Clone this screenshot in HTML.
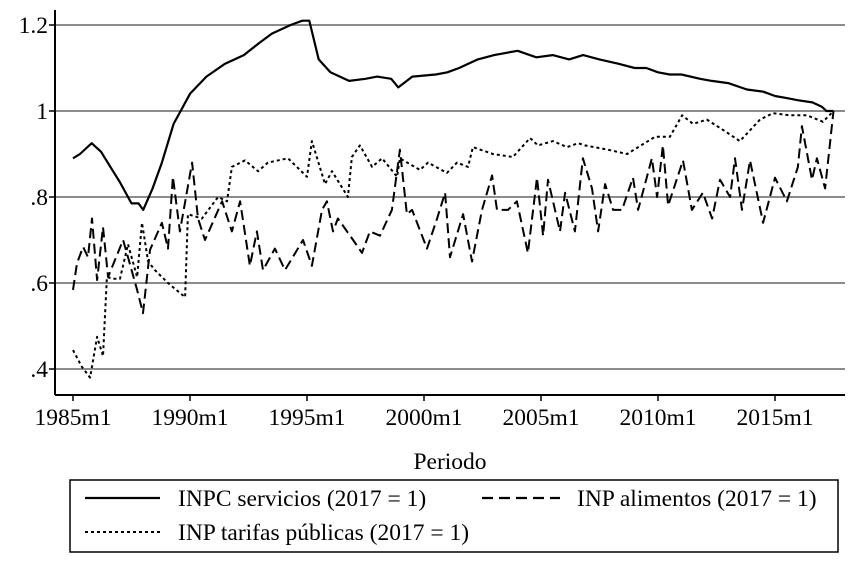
<!DOCTYPE html>
<html><head><meta charset="utf-8"><style>
body{margin:0;background:#fff;}
svg text{font-family:"Liberation Serif",serif;fill:#000;}
</style></head><body>
<svg id="chart" width="850" height="556" viewBox="0 0 850 556" xmlns="http://www.w3.org/2000/svg">
<g id="grid"></g><g id="axes"></g><g id="series"></g>
<g>
<rect x="70" y="480" width="768" height="72" fill="none" stroke="#000" stroke-width="1.5"/>
<line x1="85" y1="498" x2="160" y2="498" stroke="#000" stroke-width="2.2"/>
<text x="178" y="506" font-size="23.5">INPC servicios (2017 = 1)</text>
<line x1="482" y1="498" x2="560" y2="498" stroke="#000" stroke-width="2.2" stroke-dasharray="11,6"/>
<text x="577" y="506" font-size="23.5">INP alimentos (2017 = 1)</text>
<line x1="85" y1="532" x2="160" y2="532" stroke="#000" stroke-width="2" stroke-dasharray="3,3"/>
<text x="178" y="540" font-size="23.5">INP tarifas públicas (2017 = 1)</text>
</g>
<text x="450" y="469" font-size="23.5" text-anchor="middle">Periodo</text>
</svg>
<script>
const yTicks=[0.4,0.6,0.8,1.0,1.2];
const yTickLabels=[".4",".6",".8","1","1.2"];
const xTicks=[1985,1990,1995,2000,2005,2010,2015];
const xTickLabels=["1985m1","1990m1","1995m1","2000m1","2005m1","2010m1","2015m1"];
const servDates=[1985,1985.3,1985.6,1985.8,1986.2,1986.6,1987,1987.5,1987.8,1988,1988.4,1988.8,1989.3,1989.7,1990,1990.7,1991.5,1992.3,1993,1993.5,1994.3,1994.8,1995.1,1995.5,1996,1996.8,1997.5,1998,1998.6,1998.9,1999.5,2000.5,2001,2001.5,2002.3,2003,2003.5,2004,2004.8,2005.5,2006.2,2006.8,2007.5,2008.3,2009,2009.5,2010,2010.5,2011,2011.8,2012.3,2013,2013.8,2014.5,2015,2015.5,2016,2016.6,2017,2017.2,2017.5];
const servValues=[0.89,0.9,0.915,0.925,0.905,0.87,0.835,0.785,0.785,0.77,0.82,0.88,0.97,1.01,1.04,1.08,1.11,1.13,1.16,1.18,1.2,1.21,1.21,1.12,1.09,1.07,1.075,1.08,1.075,1.055,1.08,1.085,1.09,1.1,1.12,1.13,1.135,1.14,1.125,1.13,1.12,1.13,1.12,1.11,1.1,1.1,1.09,1.085,1.085,1.075,1.07,1.065,1.05,1.045,1.035,1.03,1.025,1.02,1.01,1.0,1.0];
const alimDates=[1985,1985.17,1985.43,1985.64,1985.81,1986.03,1986.28,1986.5,1987.14,1987.35,1987.74,1987.99,1988.29,1988.8,1989.06,1989.27,1989.57,1990.09,1990.34,1990.64,1991.37,1991.79,1992.14,1992.56,1992.86,1993.12,1993.63,1994.06,1994.83,1995.21,1995.64,1995.85,1996.11,1996.32,1996.97,1997.35,1997.69,1998.12,1998.63,1998.97,1999.27,1999.49,2000.13,2000.56,2000.9,2001.11,2001.67,2002.05,2002.48,2002.91,2003.12,2003.59,2003.97,2004.44,2004.83,2005.09,2005.3,2005.81,2006.03,2006.45,2006.79,2007.18,2007.44,2007.74,2008.08,2008.46,2008.93,2009.15,2009.74,2009.96,2010.21,2010.43,2011.07,2011.45,2011.92,2012.31,2012.65,2013.08,2013.29,2013.59,2013.93,2014.49,2015.0,2015.51,2015.98,2016.15,2016.58,2016.79,2017.14,2017.5];
const alimValues=[0.584,0.646,0.684,0.66,0.75,0.607,0.73,0.614,0.70,0.66,0.584,0.53,0.677,0.74,0.68,0.847,0.72,0.88,0.75,0.70,0.79,0.72,0.79,0.64,0.72,0.63,0.68,0.63,0.70,0.64,0.77,0.79,0.72,0.75,0.70,0.67,0.72,0.71,0.77,0.91,0.76,0.77,0.68,0.75,0.81,0.66,0.76,0.65,0.77,0.85,0.77,0.77,0.79,0.67,0.845,0.71,0.84,0.72,0.81,0.72,0.89,0.82,0.72,0.83,0.77,0.77,0.845,0.77,0.89,0.80,0.92,0.78,0.885,0.77,0.81,0.75,0.84,0.80,0.89,0.77,0.885,0.74,0.845,0.79,0.87,0.965,0.84,0.89,0.82,1.0];
const tarDates=[1985,1985.38,1985.73,1986.03,1986.28,1986.45,1986.71,1987.01,1987.35,1987.74,1987.95,1988.21,1988.5,1989.06,1989.79,1989.91,1990.51,1991.2,1991.58,1991.79,1992.35,1992.91,1993.33,1994.19,1995.0,1995.21,1995.77,1996.07,1996.75,1996.92,1997.26,1997.78,1998.21,1998.85,1998.97,1999.83,2000.17,2000.98,2001.41,2001.88,2002.09,2002.95,2003.8,2004.53,2004.87,2005.51,2006.11,2006.58,2006.88,2007.86,2008.68,2009.87,2010.51,2011.03,2011.5,2012.09,2012.95,2013.5,2014.36,2014.91,2015.64,2016.37,2017.05,2017.5];
const tarValues=[0.444,0.405,0.38,0.475,0.43,0.614,0.61,0.61,0.69,0.614,0.74,0.65,0.63,0.60,0.567,0.76,0.75,0.80,0.79,0.87,0.885,0.86,0.88,0.89,0.847,0.93,0.83,0.86,0.80,0.893,0.92,0.87,0.89,0.847,0.89,0.863,0.88,0.856,0.88,0.87,0.916,0.90,0.893,0.937,0.92,0.93,0.916,0.925,0.92,0.91,0.90,0.94,0.94,0.99,0.97,0.98,0.95,0.93,0.98,0.995,0.99,0.99,0.975,1.0];
const NS="http://www.w3.org/2000/svg";
const L=55,R=845,B=395;
const xs=y=>73+(y-1985)*23.4;
const ys=v=>111-(v-1)*430;
function mk(tag,attrs,parent){const e=document.createElementNS(NS,tag);for(const k in attrs)e.setAttribute(k,attrs[k]);parent.appendChild(e);return e;}
const grid=document.getElementById('grid'),axes=document.getElementById('axes'),ser=document.getElementById('series');
yTicks.forEach((t,i)=>{
 const g=mk('line',{x1:L,x2:R,y1:ys(t),y2:ys(t),stroke:'#8c8c8c','stroke-width':2},grid);
 
 
 const tk=mk('line',{x1:L-6,x2:L,y1:ys(t),y2:ys(t),stroke:'#000','stroke-width':1.5},axes);
 
 
 const tx=mk('text',{x:L-7,y:ys(t)+8,'font-size':23.5,'text-anchor':'end'},axes);
 tx.textContent=yTickLabels[i];
 
 
});
xTicks.forEach((t,i)=>{
 const tk=mk('line',{x1:xs(t),x2:xs(t),y1:B,y2:B+6,stroke:'#000','stroke-width':1.5},axes);
 
 
 const tx=mk('text',{x:xs(t),y:B+30,'font-size':23.5,'text-anchor':'middle'},axes);
 tx.textContent=xTickLabels[i];
 
 
});
const ya=mk('line',{x1:L,x2:L,y1:10,y2:B,stroke:'#000','stroke-width':2},axes);


const xa=mk('line',{x1:L,x2:R,y1:B,y2:B,stroke:'#000','stroke-width':2},axes);


function line(d,v,dash,w,name){
 const p=d.map((t,i)=>(i?'L':'M')+xs(t).toFixed(1)+','+ys(v[i]).toFixed(1)).join('');
 const e=mk('path',{d:p,fill:'none',stroke:'#000','stroke-width':w,'stroke-linejoin':'round'},ser);
 if(dash)e.setAttribute('stroke-dasharray',dash);
 
 
}
line(tarDates,tarValues,'3,3',2,'series-tarifas-publicas');
line(alimDates,alimValues,'10,5',2,'series-alimentos');
line(servDates,servValues,null,2.2,'series-servicios');
</script>
</body></html>
